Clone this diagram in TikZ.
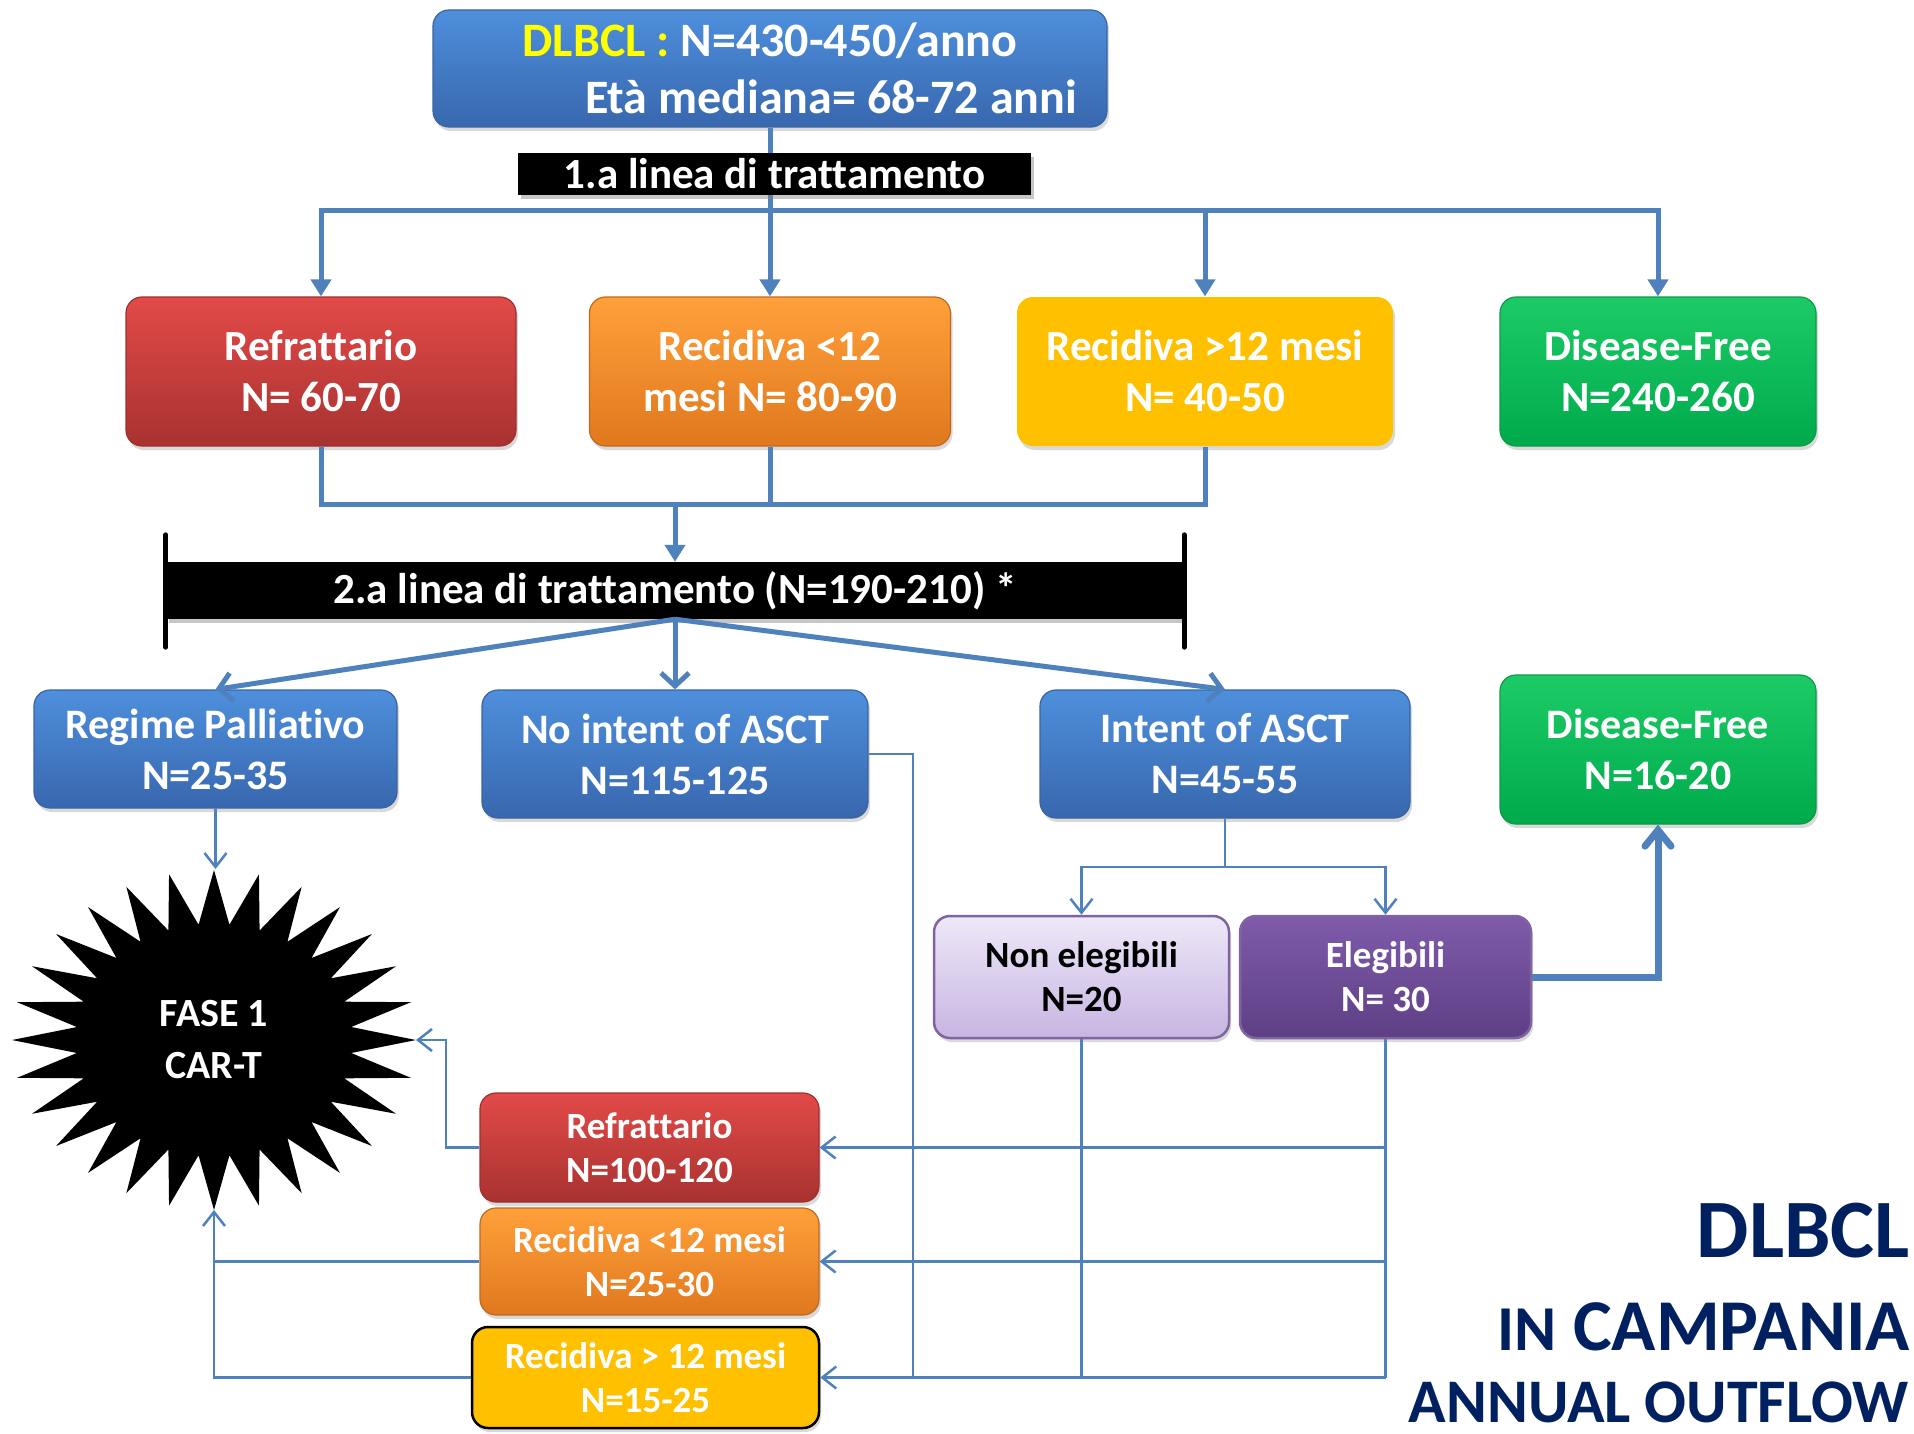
\documentclass[tikz,border=0pt]{standalone}
\usepackage{fontspec}
\setmainfont{Carlito}[Ligatures=NoCommon]
\usetikzlibrary{arrows.meta,shadows}
\definecolor{conn}{HTML}{4F81BD}
\definecolor{bluetop}{HTML}{4E8FDC}
\definecolor{bluebot}{HTML}{3867AE}
\definecolor{blueedge}{HTML}{3A64A0}
\definecolor{redtop}{HTML}{E24A48}
\definecolor{redbot}{HTML}{A83230}
\definecolor{rededge}{HTML}{9E3030}
\definecolor{orgtop}{HTML}{FFA03A}
\definecolor{orgbot}{HTML}{E0781E}
\definecolor{orgedge}{HTML}{C06A20}
\definecolor{amber}{HTML}{FFC000}
\definecolor{grntop}{HTML}{1CCB66}
\definecolor{grnbot}{HTML}{00AA4C}
\definecolor{grnedge}{HTML}{0E9A48}
\definecolor{lavtop}{HTML}{EEE8F8}
\definecolor{lavbot}{HTML}{C7B5E2}
\definecolor{purtop}{HTML}{7F5BAA}
\definecolor{purbot}{HTML}{5E3F85}
\definecolor{puredge}{HTML}{8064A2}
\definecolor{navy}{HTML}{002060}
\definecolor{dlyellow}{HTML}{FFFF00}
\begin{document}
\begin{tikzpicture}[x=1pt,y=-1pt,
  box/.style={rounded corners=16pt, inner sep=0pt, align=center, text=white, line width=1.2pt,
    drop shadow={shadow xshift=2pt, shadow yshift=-4pt, opacity=0.3}},
  bluebox/.style={box, top color=bluetop, bottom color=bluebot, draw=blueedge},
  redbox/.style={box, top color=redtop, bottom color=redbot, draw=rededge},
  orgbox/.style={box, top color=orgtop, bottom color=orgbot, draw=orgedge},
  ambbox/.style={box, fill=amber},
  grnbox/.style={box, top color=grntop, bottom color=grnbot, draw=grnedge},
  lavbox/.style={box, top color=lavtop, bottom color=lavbot, draw=puredge, line width=2.5pt, text=black},
  purbox/.style={box, top color=purtop, bottom color=purbot, draw=puredge, line width=2.5pt},
  blackbar/.style={fill=black, text=white, inner sep=0pt, align=center,
    drop shadow={shadow xshift=3pt, shadow yshift=-4pt, opacity=0.45}},
  fbig/.style={font=\bfseries\fontsize{48}{57}\selectfont},
  fone/.style={font=\bfseries\fontsize{43}{51}\selectfont},
  ftwo/.style={font=\bfseries\fontsize{42}{51}\selectfont},
  fsmall/.style={font=\bfseries\fontsize{37}{44}\selectfont},
  conthick/.style={draw=conn, line width=5pt},
  conthin/.style={draw=conn, line width=2.5pt},
  contbig/.style={draw=conn, line width=7pt},
  tri/.style={-{Triangle[length=17pt,width=20pt]}},
  barb/.style={-{Straight Barb[length=13pt,width=28pt]}},
  tbarb/.style={-{Straight Barb[length=14pt,width=22pt]}},
  bigbarb/.style={-{Straight Barb[length=16pt,width=26pt,line cap=round]}},
]
\useasboundingbox (0,0) rectangle (1914,1434);

% ---------- nodes ----------
\node[bluebox, fbig, minimum width=674pt, minimum height=117pt] (top) at (770,68.5)
  {{\color{dlyellow}DLBCL :} N=430-450/anno\\\hspace*{122pt}Età mediana= 68-72 anni};

\node[redbox, fone, minimum width=390pt, minimum height=149pt] (refr1) at (321,371.5) {Refrattario\\N= 60-70};
\node[orgbox, fone, minimum width=361pt, minimum height=149pt] (rec1) at (770,371.5) {Recidiva <12\\mesi N= 80-90};
\node[ambbox, fone, minimum width=376pt, minimum height=149pt] (rec2) at (1205,371.5) {Recidiva >12 mesi\\N= 40-50};
\node[grnbox, fone, minimum width=316pt, minimum height=149pt] (df1) at (1658,371.5) {Disease-Free\\N=240-260};

\node[bluebox, ftwo, minimum width=363pt, minimum height=118pt] (rp) at (215.5,749) {Regime Palliativo\\N=25-35};
\node[bluebox, ftwo, minimum width=386pt, minimum height=128pt] (ni) at (675,754) {No intent of ASCT\\N=115-125};
\node[bluebox, ftwo, minimum width=370pt, minimum height=128pt] (ia) at (1225,754) {Intent of ASCT\\N=45-55};
\node[grnbox, ftwo, minimum width=316pt, minimum height=149pt] (df2) at (1658,749.5) {Disease-Free\\N=16-20};

\node[lavbox, fsmall, minimum width=295pt, minimum height=122pt] (ne) at (1081.5,977) {Non elegibili\\N=20};
\node[purbox, fsmall, minimum width=291pt, minimum height=122pt] (el) at (1385.5,977) {Elegibili\\N= 30};

\node[redbox, fsmall, minimum width=339pt, minimum height=109pt] (rb1) at (649.5,1147.5) {Refrattario\\N=100-120};
\node[orgbox, fsmall, minimum width=339pt, minimum height=107pt] (rb2) at (649.5,1261.5) {Recidiva <12 mesi\\N=25-30};
\node[ambbox, fsmall, draw=black, line width=2.5pt, minimum width=347pt, minimum height=101pt] (rb3) at (645.5,1377.5) {Recidiva > 12 mesi\\N=15-25};

% ---------- starburst ----------
\fill[black] (416,1040) \foreach \k in {0,...,27} {
   -- ({214+202*cos(\k*360/28)},{1040+170*sin(\k*360/28)})
   -- ({214+138*cos((\k+0.5)*360/28)},{1040+116*sin((\k+0.5)*360/28)}) } -- cycle;
\node[text=white, align=center, font=\bfseries\fontsize{40}{52}\selectfont] (fase) at (214,1040) {FASE 1\\CAR-T};
\coordinate (starR) at (416,1040);
\coordinate (starB) at (214,1210);
\coordinate (starT) at (214,869);

% ---------- first level connectors ----------
\coordinate (h1) at (770,211);
\draw[conthick, tri] (top.south) -- (rec1.north);
\draw[conthick, line cap=rect] (h1 -| refr1.north) -- (h1 -| df1.north);
\draw[conthick, tri] (h1 -| refr1.north) -- (refr1.north);
\draw[conthick, tri] (h1 -| rec2.north) -- (rec2.north);
\draw[conthick, tri] (h1 -| df1.north) -- (df1.north);

\node[blackbar, fone, minimum width=513pt, minimum height=42pt] (bar1) at (774.5,174) {1.a linea di trattamento};

\coordinate (h2) at (675,504);
\draw[conthick] (refr1.south) -- (refr1.south |- h2) -- (rec2.south |- h2) -- (rec2.south);
\draw[conthick] (rec1.south) -- (rec1.south |- h2);

\node[blackbar, fone, minimum width=1018pt, minimum height=57pt] (bar2) at (675,590.5) {2.a linea di trattamento (N=190-210) *};
\draw[conthick, tri] (h2) -- (bar2.north);
\draw[black, line width=5pt, line cap=round] ([yshift=27pt]bar2.north west) -- ([yshift=-28pt]bar2.south west);
\draw[black, line width=5pt, line cap=round] ([yshift=27pt]bar2.north east) -- ([yshift=-28pt]bar2.south east);

% ---------- second level connectors ----------
\draw[conthick, barb] (bar2.south) -- (rp.north);
\draw[conthick, barb] (bar2.south) -- (ni.north);
\draw[conthick, barb] (bar2.south) -- (ia.north);

\draw[conthin, tbarb] (rp.south) -- (rp.south |- starT);

\coordinate (h3) at (1225,867);
\draw[conthin, tbarb] (ia.south) -- (h3) -| (ne.north);
\draw[conthin, tbarb] (h3) -| (el.north);

\draw[contbig, bigbarb] (el.east) -| (df2.south);

% ---------- lower network ----------
\coordinate (nix) at (913,1377.5);
\coordinate (hA) at (1385.5,1147.5);
\coordinate (hB) at (1385.5,1261.5);
\coordinate (hC) at (1385.5,1377.5);
\draw[conthin] (ni.east) -| (nix);
\draw[conthin] (ne.south) -- (ne.south |- hC);
\draw[conthin] (el.south) -- (hC);
\draw[conthin, tbarb] (hA) -- (rb1.east);
\draw[conthin, tbarb] (hB) -- (rb2.east);
\draw[conthin, tbarb] (hC) -- (rb3.east);

\coordinate (k1) at (446,1040);
\draw[conthin, tbarb] (rb1.west) -- (rb1.west -| k1) |- (starR);
\draw[conthin] (rb2.west) -- (rb2.west -| starB);
\draw[conthin, tbarb] (rb3.west) -| (starB);

% ---------- title ----------
\node[anchor=base east, text=navy, font=\bfseries\fontsize{83}{83}\selectfont, inner sep=0pt] (t1) at (1910,1257) {DLBCL};
\node[anchor=base east, text=navy, font=\bfseries\fontsize{73}{73}\selectfont, inner sep=0pt] (t2) at (1910,1350)
  {{\fontsize{64}{64}\selectfont IN} CAMPANIA};
\node[anchor=base east, text=navy, font=\bfseries\fontsize{62}{62}\selectfont, inner sep=0pt] (t3) at (1909,1422) {ANNUAL OUTFLOW};
\end{tikzpicture}
\end{document}
